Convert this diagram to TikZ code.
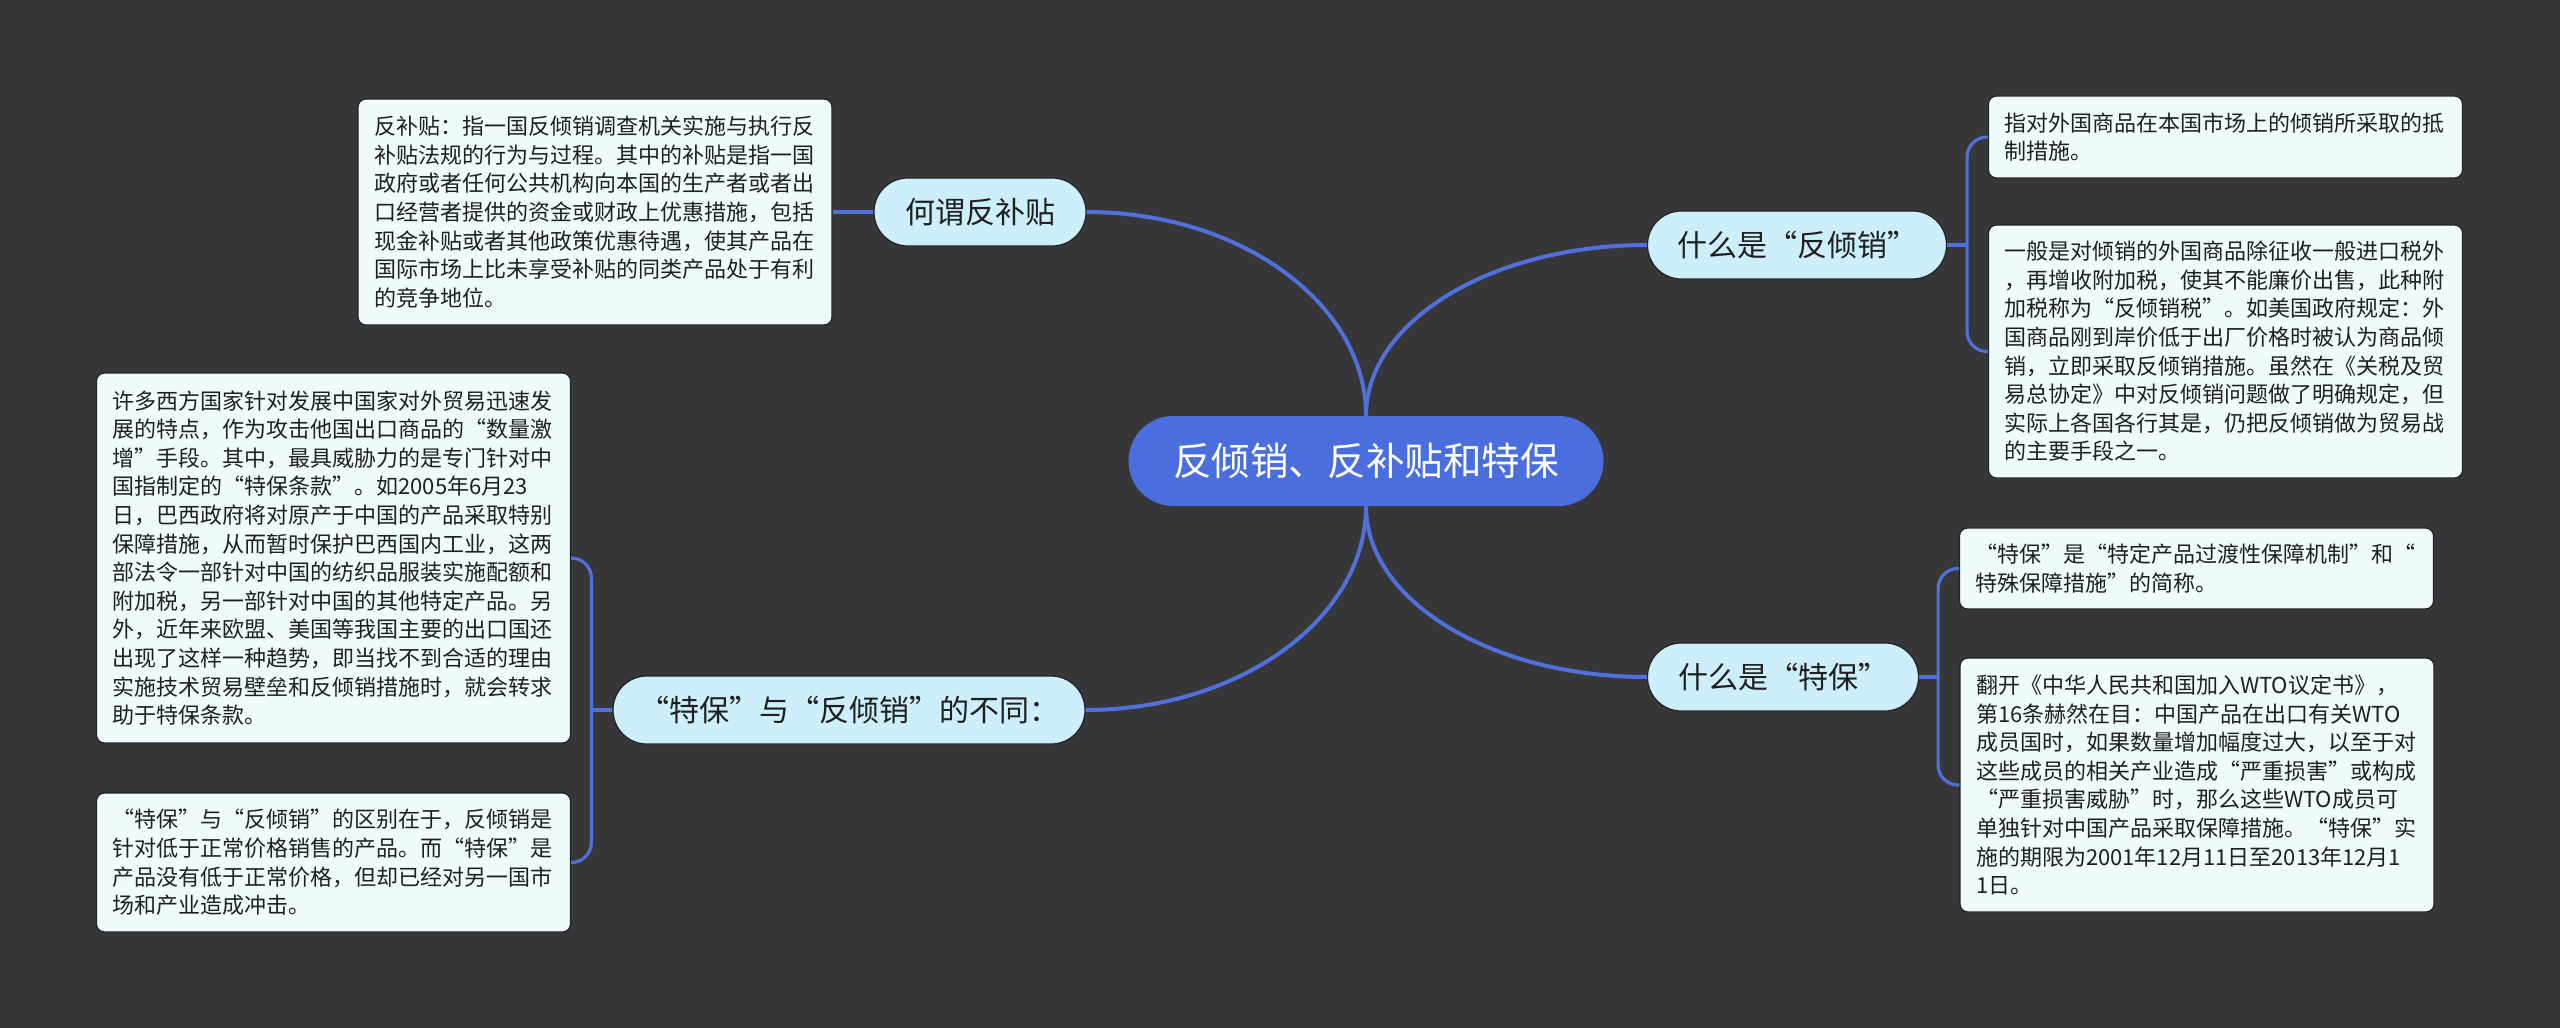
\documentclass[tikz,border=0pt]{standalone}
\usepackage{fontspec}
\setmainfont{Noto Sans CJK SC}
\definecolor{bg}{HTML}{373638}
\definecolor{mainblue}{HTML}{4B6EDF}
\definecolor{linec}{HTML}{5070DA}
\definecolor{branchfill}{HTML}{CDEFFC}
\definecolor{leaffill}{HTML}{F0FBFE}
\definecolor{edgec}{HTML}{222222}
\tikzset{
  central/.style={fill=mainblue, text=white, rounded corners=22.4pt, minimum width=237.5pt, minimum height=45pt, font=\fontsize{19.3}{23}\selectfont, inner sep=0pt},
  branch/.style={fill=branchfill, draw=edgec, line width=0.6pt, rounded corners=16.9pt, minimum height=34pt, font=\fontsize{15}{18}\selectfont, text=black!88, inner sep=0pt},
  leaf/.style={fill=leaffill, draw=edgec, line width=0.6pt, rounded corners=4pt, text width=221pt, inner xsep=8pt, inner ysep=0pt, align=left, font=\fontsize{11}{14.3}\selectfont, text=black!88},
  conn/.style={draw=linec, line width=2pt},
  sub/.style={draw=linec, line width=1.6pt, rounded corners=10pt},
}
\begin{document}
\begin{tikzpicture}[x=0.5pt,y=0.5pt]
\fill[bg] (0,0) rectangle (2560,-1028);
\useasboundingbox (0,0) rectangle (2560,-1028);

% central and branches
\node[central] (c) at (1366,-461) {反倾销、反补贴和特保};
\node[branch, minimum width=106pt] (b1) at (980,-212) {何谓反补贴};
\node[branch, minimum width=149.5pt] (b2) at (1797,-245) {什么是“反倾销”};
\node[branch, minimum width=236pt] (b3) at (849,-710) {“特保”与“反倾销”的不同：};
\node[branch, minimum width=135.5pt] (b4) at (1783,-677) {什么是“特保”};

% leaves
\node[leaf, minimum height=113pt] (l1) at (595,-212) {反补贴：指一国反倾销调查机关实施与执行反\\补贴法规的行为与过程。其中的补贴是指一国\\政府或者任何公共机构向本国的生产者或者出\\口经营者提供的资金或财政上优惠措施，包括\\现金补贴或者其他政策优惠待遇，使其产品在\\国际市场上比未享受补贴的同类产品处于有利\\的竞争地位。};
\node[leaf, minimum height=41pt] (l2) at (2225.5,-137) {指对外国商品在本国市场上的倾销所采取的抵\\制措施。};
\node[leaf, minimum height=126.5pt] (l3) at (2225.5,-351.5) {一般是对倾销的外国商品除征收一般进口税外\\，再增收附加税，使其不能廉价出售，此种附\\加税称为“反倾销税”。如美国政府规定：外\\国商品刚到岸价低于出厂价格时被认为商品倾\\销，立即采取反倾销措施。虽然在《关税及贸\\易总协定》中对反倾销问题做了明确规定，但\\实际上各国各行其是，仍把反倾销做为贸易战\\的主要手段之一。};
\node[leaf, minimum height=185pt] (l4) at (333.5,-558) {许多西方国家针对发展中国家对外贸易迅速发\\展的特点，作为攻击他国出口商品的“数量激\\增”手段。其中，最具威胁力的是专门针对中\\国指制定的“特保条款”。如2005年6月23\\日，巴西政府将对原产于中国的产品采取特别\\保障措施，从而暂时保护巴西国内工业，这两\\部法令一部针对中国的纺织品服装实施配额和\\附加税，另一部针对中国的其他特定产品。另\\外，近年来欧盟、美国等我国主要的出口国还\\出现了这样一种趋势，即当找不到合适的理由\\实施技术贸易壁垒和反倾销措施时，就会转求\\助于特保条款。};
\node[leaf, minimum height=69.5pt] (l5) at (333.5,-862.5) {“特保”与“反倾销”的区别在于，反倾销是\\针对低于正常价格销售的产品。而“特保”是\\产品没有低于正常价格，但却已经对另一国市\\场和产业造成冲击。};
\node[leaf, minimum height=40.5pt] (l6) at (2196.5,-568.5) {“特保”是“特定产品过渡性保障机制”和“\\特殊保障措施”的简称。};
\node[leaf, minimum height=127pt] (l7) at (2197,-785) {翻开《中华人民共和国加入WTO议定书》，\\第16条赫然在目：中国产品在出口有关WTO\\成员国时，如果数量增加幅度过大，以至于对\\这些成员的相关产业造成“严重损害”或构成\\“严重损害威胁”时，那么这些WTO成员可\\单独针对中国产品采取保障措施。“特保”实\\施的期限为2001年12月11日至2013年12月1\\1日。};

% main connectors
\draw[conn] (c.north) to[out=90,in=0,out distance=56pt,in distance=77pt] (b1.east);
\draw[conn] (c.north) to[out=90,in=180,out distance=47pt,in distance=78pt] (b2.west);
\draw[conn] (c.south) to[out=-90,in=0,out distance=56pt,in distance=77pt] (b3.east);
\draw[conn] (c.south) to[out=-90,in=180,out distance=47pt,in distance=78pt] (b4.west);

% sub connectors
\draw[sub] (b1.west) -- (l1.east);

\draw[sub] (b2.east) -- ++(20,0) coordinate (j2);
\draw[sub] (j2) |- (l2.west);
\draw[sub] (j2) |- (l3.west);

\draw[sub] (b4.east) -- ++(19,0) coordinate (j4);
\draw[sub] (j4) |- (l6.west);
\draw[sub] (j4) |- (l7.west);

\draw[sub] (b3.west) -- ++(-21,0) coordinate (j3);
\draw[sub] (j3) |- (l4.east);
\draw[sub] (j3) |- (l5.east);
\end{tikzpicture}
\end{document}
